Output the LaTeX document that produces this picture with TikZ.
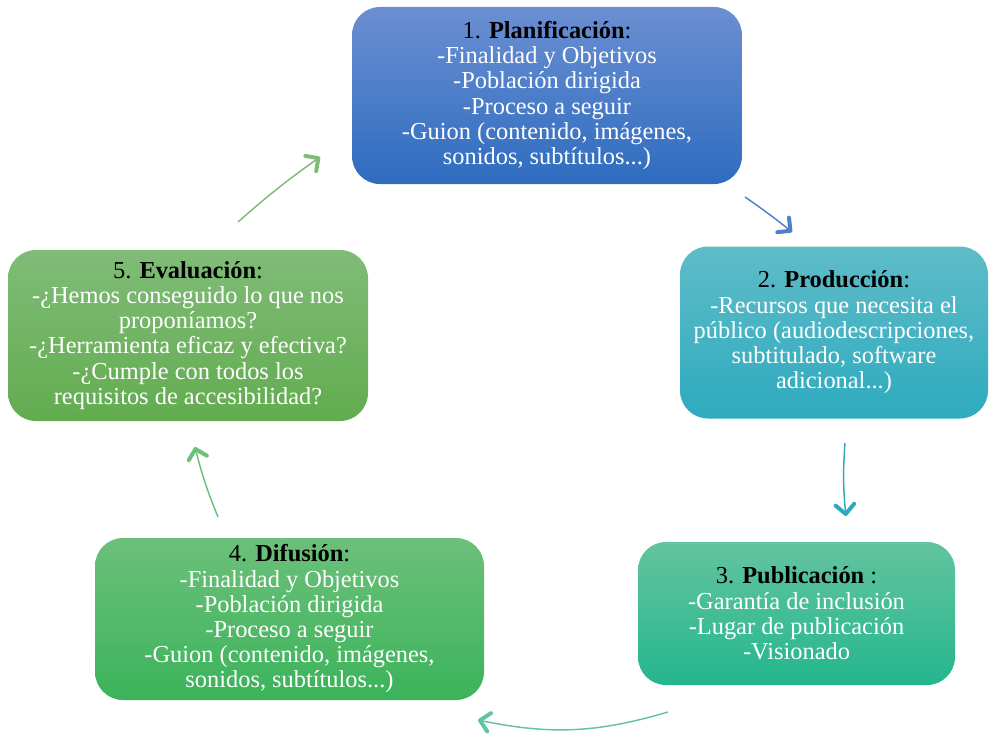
\documentclass[tikz,border=0pt]{standalone}
\usepackage{fontspec}
\setmainfont{Liberation Serif}
\usetikzlibrary{arrows.meta}
\definecolor{bA}{HTML}{6B8FD2}\definecolor{bB}{HTML}{2E6CBF}
\definecolor{tA}{HTML}{5FBCC8}\definecolor{tB}{HTML}{2EAABF}
\definecolor{gA}{HTML}{63C49F}\definecolor{gB}{HTML}{24B68D}
\definecolor{dA}{HTML}{6CC07A}\definecolor{dB}{HTML}{3BB35A}
\definecolor{eA}{HTML}{80BC78}\definecolor{eB}{HTML}{62AC4F}
\tikzset{
  stagebox/.style={rectangle, rounded corners=21pt, align=center, text=white,
    font=\fontsize{18.3pt}{18.9pt}\selectfont, inner sep=0pt, shading=axis},
  flow/.style={line width=1.1pt, -{Straight Barb[length=7pt,width=14pt,line width=3pt,round]}},
}
\newcommand{\ttl}[2]{\textcolor{black}{#1 \textbf{#2}:}}
\begin{document}
\begin{tikzpicture}[x=0.75pt,y=-0.75pt]
\useasboundingbox (0,0) rectangle (990,735);
\node[stagebox, top color=bA, bottom color=bB, minimum width=292.5pt, minimum height=132.75pt] (p1) at (547,95.5)
  {\ttl{1.}{Planificación}\\-Finalidad y Objetivos\\-Población dirigida\\-Proceso a seguir\\-Guion (contenido, imágenes,\\sonidos, subtítulos...)};
\node[stagebox, top color=tA, bottom color=tB, minimum width=231pt, minimum height=129pt] (p2) at (834,332.5)
  {\ttl{2.}{Producción}\\-Recursos que necesita el\\público (audiodescripciones,\\subtitulado, software\\adicional...)};
\node[stagebox, top color=gA, bottom color=gB, minimum width=237.75pt, minimum height=107.25pt] (p3) at (796.5,613.5)
  {\textcolor{black}{3. \textbf{Publicación} :}\\-Garantía de inclusión\\-Lugar de publicación\\-Visionado};
\node[stagebox, top color=dA, bottom color=dB, minimum width=291.75pt, minimum height=121.5pt] (p4) at (289.5,619)
  {\ttl{4.}{Difusión}\\-Finalidad y Objetivos\\-Población dirigida\\-Proceso a seguir\\-Guion (contenido, imágenes,\\sonidos, subtítulos...)};
\node[stagebox, top color=eA, bottom color=eB, minimum width=270pt, minimum height=128.25pt] (p5) at (188,335.5)
  {\ttl{5.}{Evaluación}\\-¿Hemos conseguido lo que nos\\proponíamos?\\-¿Herramienta eficaz y efectiva?\\-¿Cumple con todos los\\requisitos de accesibilidad?};
\coordinate (a1s) at (745,197); \coordinate (a1e) at (792,232);
\coordinate (a2s) at (845,443); \coordinate (a2e) at (846,516);
\coordinate (a3s) at (668,712); \coordinate (a3e) at (478,720);
\coordinate (a4s) at (218,517); \coordinate (a4e) at (195,447);
\coordinate (a5s) at (238,222); \coordinate (a5e) at (320,157);
\draw[flow, draw=bB!85] (a1s) to[bend left=2] (a1e);
\draw[flow, draw=tB] (a2s) to[bend right=5] (a2e);
\draw[flow, draw=gA] (a3s) to[bend left=14] (a3e);
\draw[flow, draw=dA] (a4s) to[bend left=4] (a4e);
\draw[flow, draw=eA] (a5s) to[bend left=3] (a5e);
\end{tikzpicture}
\end{document}
